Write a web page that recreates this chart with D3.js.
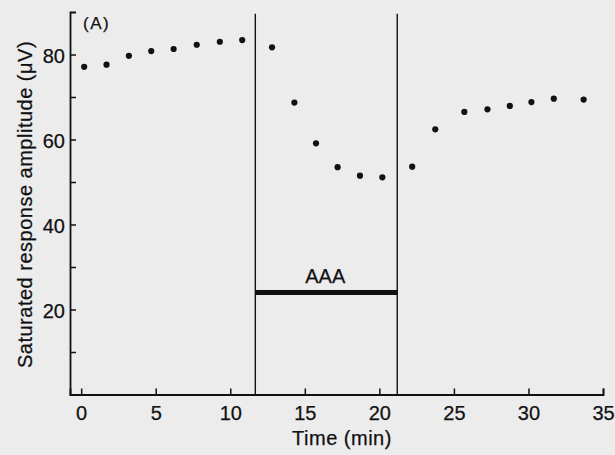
<!DOCTYPE html>
<html>
<head>
<meta charset="utf-8">
<script src="https://cdn.jsdelivr.net/npm/d3@7"></script>
<style>
  html, body { margin: 0; padding: 0; background: #ececec; }
  svg { display: block; }
  text { font-family: "Liberation Sans", Arial, Helvetica, sans-serif; fill: #111; stroke: #111; stroke-width: 0.25px; }
</style>
</head>
<body>
<script>
// ---- data ----
const times = [0.2, 1.7, 3.2, 4.7, 6.2, 7.75, 9.3, 10.8, 12.8, 14.3, 15.75, 17.2, 18.7, 20.2, 22.2, 23.75, 25.7, 27.25, 28.75, 30.2, 31.7, 33.7];
const amplitudes = [77.1, 77.6, 79.7, 80.8, 81.3, 82.3, 83.0, 83.4, 81.7, 68.7, 59.1, 53.5, 51.5, 51.1, 53.6, 62.4, 66.5, 67.1, 67.9, 68.8, 69.6, 69.4];
const xTicks = [0, 5, 10, 15, 20, 25, 30, 35];
const yTicks = [10, 20, 30, 40, 50, 60, 70, 80, 90];
const yTickLabels = {20: "20", 40: "40", 60: "60", 80: "80"};
const treatmentStart = 11.68;
const treatmentEnd = 21.2;
const treatmentLevel = 24;
const treatmentLabel = "AAA";
const panelLabel = "(A)";
const xTitle = "Time (min)";
const yTitle = "Saturated response amplitude (\u03bcV)";

// ---- layout ----
const W = 615, H = 455;
const svg = d3.select("body").append("svg").attr("width", W).attr("height", H);
svg.append("rect").attr("width", W).attr("height", H).attr("fill", "#ececec");

const x = d3.scaleLinear().domain([-0.75, 35]).range([70, 603]);
const y = d3.scaleLinear().domain([0, 90]).range([394.5, 12]);

const ink = "#111";
const font = '"Liberation Sans", Arial, sans-serif';

// x axis
const gx = svg.append("g").attr("transform", `translate(0,${y(0)})`)
  .call(d3.axisBottom(x).tickValues(xTicks).tickSizeInner(-6).tickSizeOuter(-6).tickPadding(11).tickFormat(d3.format("d")));
gx.select(".domain").attr("stroke", ink).attr("stroke-width", 1.8);
gx.selectAll(".tick line").attr("stroke", ink).attr("stroke-width", 1.5);
gx.selectAll(".tick text").attr("font-size", 20).attr("fill", ink).style("font-family", font);

// y axis
const gy = svg.append("g").attr("transform", `translate(${x(-0.75)},0)`)
  .call(d3.axisLeft(y).tickValues(yTicks.filter(d => d < 90)).tickSizeInner(-6).tickSizeOuter(-6).tickPadding(5)
    .tickFormat(d => yTickLabels[d] || ""));
gy.select(".domain").attr("stroke", ink).attr("stroke-width", 1.8);
gy.selectAll(".tick line").attr("stroke", ink).attr("stroke-width", 1.5);
gy.selectAll(".tick text").attr("font-size", 20).attr("fill", ink).attr("dy", "0.42em").style("font-family", font);

// treatment period vertical lines
svg.selectAll("line.period").data([treatmentStart, treatmentEnd]).join("line")
  .attr("class", "period")
  .attr("x1", d => x(d)).attr("x2", d => x(d))
  .attr("y1", y(89.6)).attr("y2", y(0))
  .attr("stroke", ink).attr("stroke-width", 1.4);

// treatment bar
svg.append("line")
  .attr("x1", x(treatmentStart)).attr("x2", x(treatmentEnd))
  .attr("y1", y(treatmentLevel)).attr("y2", y(treatmentLevel))
  .attr("stroke", ink).attr("stroke-width", 5);
svg.append("text")
  .attr("x", x((treatmentStart + treatmentEnd) / 2) - 1)
  .attr("y", y(treatmentLevel) - 9.5)
  .attr("text-anchor", "middle").attr("font-size", 20)
  .text(treatmentLabel);

// points
svg.selectAll("circle.pt").data(times.map((t, i) => [t, amplitudes[i]])).join("circle")
  .attr("class", "pt")
  .attr("cx", d => x(d[0])).attr("cy", d => y(d[1]))
  .attr("r", 3.1).attr("fill", ink);

// panel label
svg.append("text").attr("x", 83).attr("y", 29).attr("font-size", 17).attr("letter-spacing", 1.5).text(panelLabel);

// axis titles
svg.append("text").attr("x", 342).attr("y", 445).attr("text-anchor", "middle")
  .attr("font-size", 20).attr("letter-spacing", 0.5).text(xTitle);
svg.append("text").attr("transform", "translate(32,204.5) rotate(-90)")
  .attr("text-anchor", "middle").attr("font-size", 20).attr("letter-spacing", 0.5).text(yTitle);
</script>
</body>
</html>
